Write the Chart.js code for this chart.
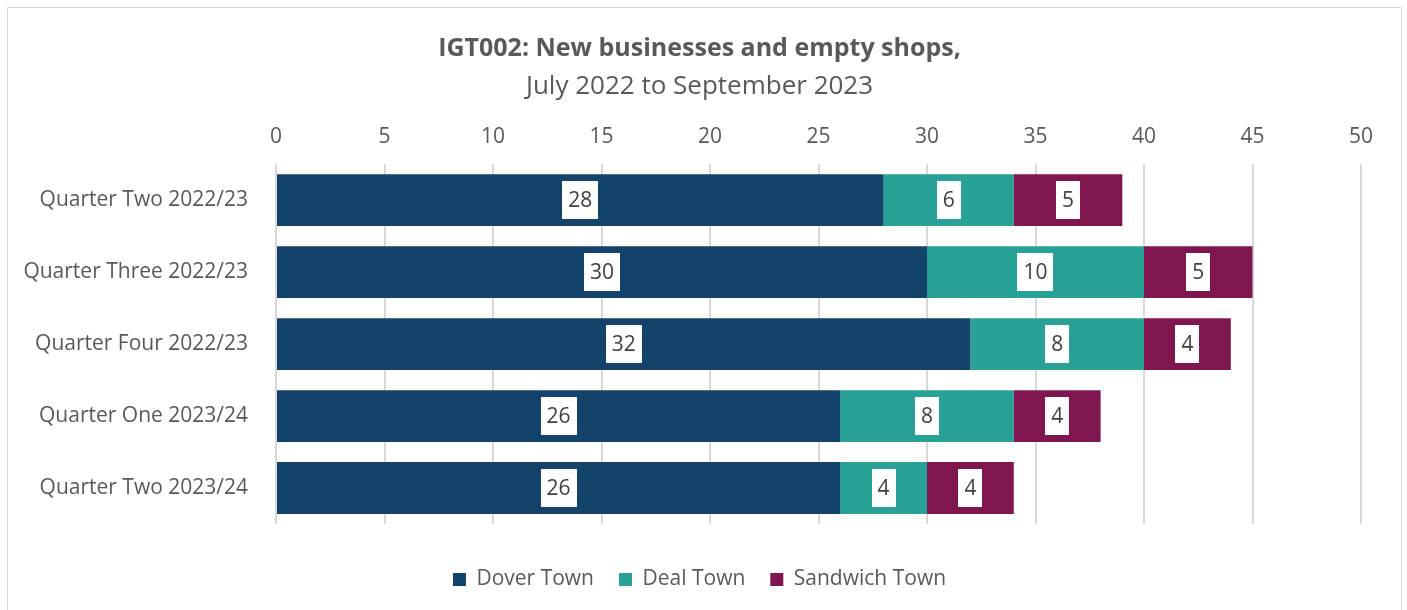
<!DOCTYPE html>
<html>
<head>
<meta charset="utf-8">
<title>IGT002: New businesses and empty shops</title>
<script src="https://cdn.jsdelivr.net/npm/chart.js@4/dist/chart.umd.min.js"></script>
<style>
  body { margin: 0; background: #fff; }
  #wrap { position: relative; width: 1407px; height: 610px; }
  #frame { position: absolute; left: 7px; top: 7px; width: 1395px; height: 620px; border: 1px solid #d9d9d9; box-sizing: border-box; }
  #chart { position: absolute; left: 0; top: 0; }
</style>
</head>
<body>
<div id="wrap">
  <div id="frame"></div>
  <canvas id="chart" width="1407" height="610"></canvas>
</div>
<script>
/* quarters and counts per town */
var quarters = ["Quarter Two 2022/23", "Quarter Three 2022/23", "Quarter Four 2022/23", "Quarter One 2023/24", "Quarter Two 2023/24"];
var doverTown = [28, 30, 32, 26, 26];
var dealTown = [6, 10, 8, 8, 4];
var sandwichTown = [5, 5, 4, 4, 4];
var xTicks = [0, 5, 10, 15, 20, 25, 30, 35, 40, 45, 50];

var fontFamily = "'Open Sans', 'Noto Sans', sans-serif";
var textColor = "#595959";

/* white value boxes in the middle of each bar segment */
var valueBoxes = {
  id: "valueBoxes",
  afterDatasetsDraw: function (chart) {
    var ctx = chart.ctx;
    ctx.save();
    ctx.font = "21px " + fontFamily;
    ctx.textAlign = "center";
    ctx.textBaseline = "middle";
    chart.data.datasets.forEach(function (ds, i) {
      var meta = chart.getDatasetMeta(i);
      meta.data.forEach(function (bar, j) {
        var txt = String(ds.data[j]);
        var p = bar.getCenterPoint();
        var w = ctx.measureText(txt).width + 12;
        var h = 38;
        ctx.fillStyle = "#ffffff";
        ctx.fillRect(Math.round(p.x - w / 2), Math.round(p.y - h / 2), Math.round(w), h);
        ctx.fillStyle = "#404040";
        ctx.fillText(txt, p.x, p.y + 1);
      });
    });
    ctx.restore();
  }
};

var ctx = document.getElementById("chart");
var myChart = new Chart(ctx, {
  type: "bar",
  data: {
    labels: quarters,
    datasets: [{
      label: "Dover Town",
      data: doverTown,
      backgroundColor: "#13426b"
    }, {
      label: "Deal Town",
      data: dealTown,
      backgroundColor: "#28a197"
    }, {
      label: "Sandwich Town",
      data: sandwichTown,
      backgroundColor: "#801650"
    }]
  },
  options: {
    indexAxis: "y",
    responsive: false,
    animation: false,
    categoryPercentage: 1,
    barPercentage: 0.72,
    layout: { padding: { left: 38, right: 46, top: 12, bottom: 10 } },
    scales: {
      x: {
        position: "top",
        stacked: true,
        min: 0,
        max: 50,
        afterBuildTicks: function (scale) {
          scale.ticks = xTicks.map(function (v) { return { value: v }; });
        },
        afterFit: function (scale) { scale.height = 52; },
        grid: { color: "#d9d9d9", lineWidth: 2, drawTicks: false },
        border: { display: false },
        ticks: { color: textColor, padding: 15, font: { family: fontFamily, size: 21 } }
      },
      y: {
        stacked: true,
        afterFit: function (scale) {
          scale.width = 238;
          // long labels run past the left padding, so don't clip them
          scale._computeLabelArea = function () {};
        },
        grid: { display: false, drawTicks: false },
        border: { display: false },
        ticks: { color: textColor, padding: 28, font: { family: fontFamily, size: 21 } }
      }
    },
    plugins: {
      title: {
        display: true,
        text: "IGT002: New businesses and empty shops,",
        color: textColor,
        font: { family: fontFamily, size: 25, weight: "bold" },
        padding: { top: 22, bottom: 7 }
      },
      subtitle: {
        display: true,
        text: "July 2022 to September 2023",
        color: textColor,
        font: { family: fontFamily, size: 26, weight: "normal" },
        padding: { top: 0, bottom: 10 }
      },
      legend: {
        position: "bottom",
        title: {
          display: true,
          text: " ",
          font: { size: 10 },
          padding: { top: 4, bottom: 4 }
        },
        labels: {
          color: textColor,
          boxWidth: 13,
          boxHeight: 13,
          padding: 25,
          font: { family: fontFamily, size: 21 }
        }
      },
      tooltip: { enabled: false }
    }
  },
  plugins: [valueBoxes]
});
</script>
</body>
</html>
